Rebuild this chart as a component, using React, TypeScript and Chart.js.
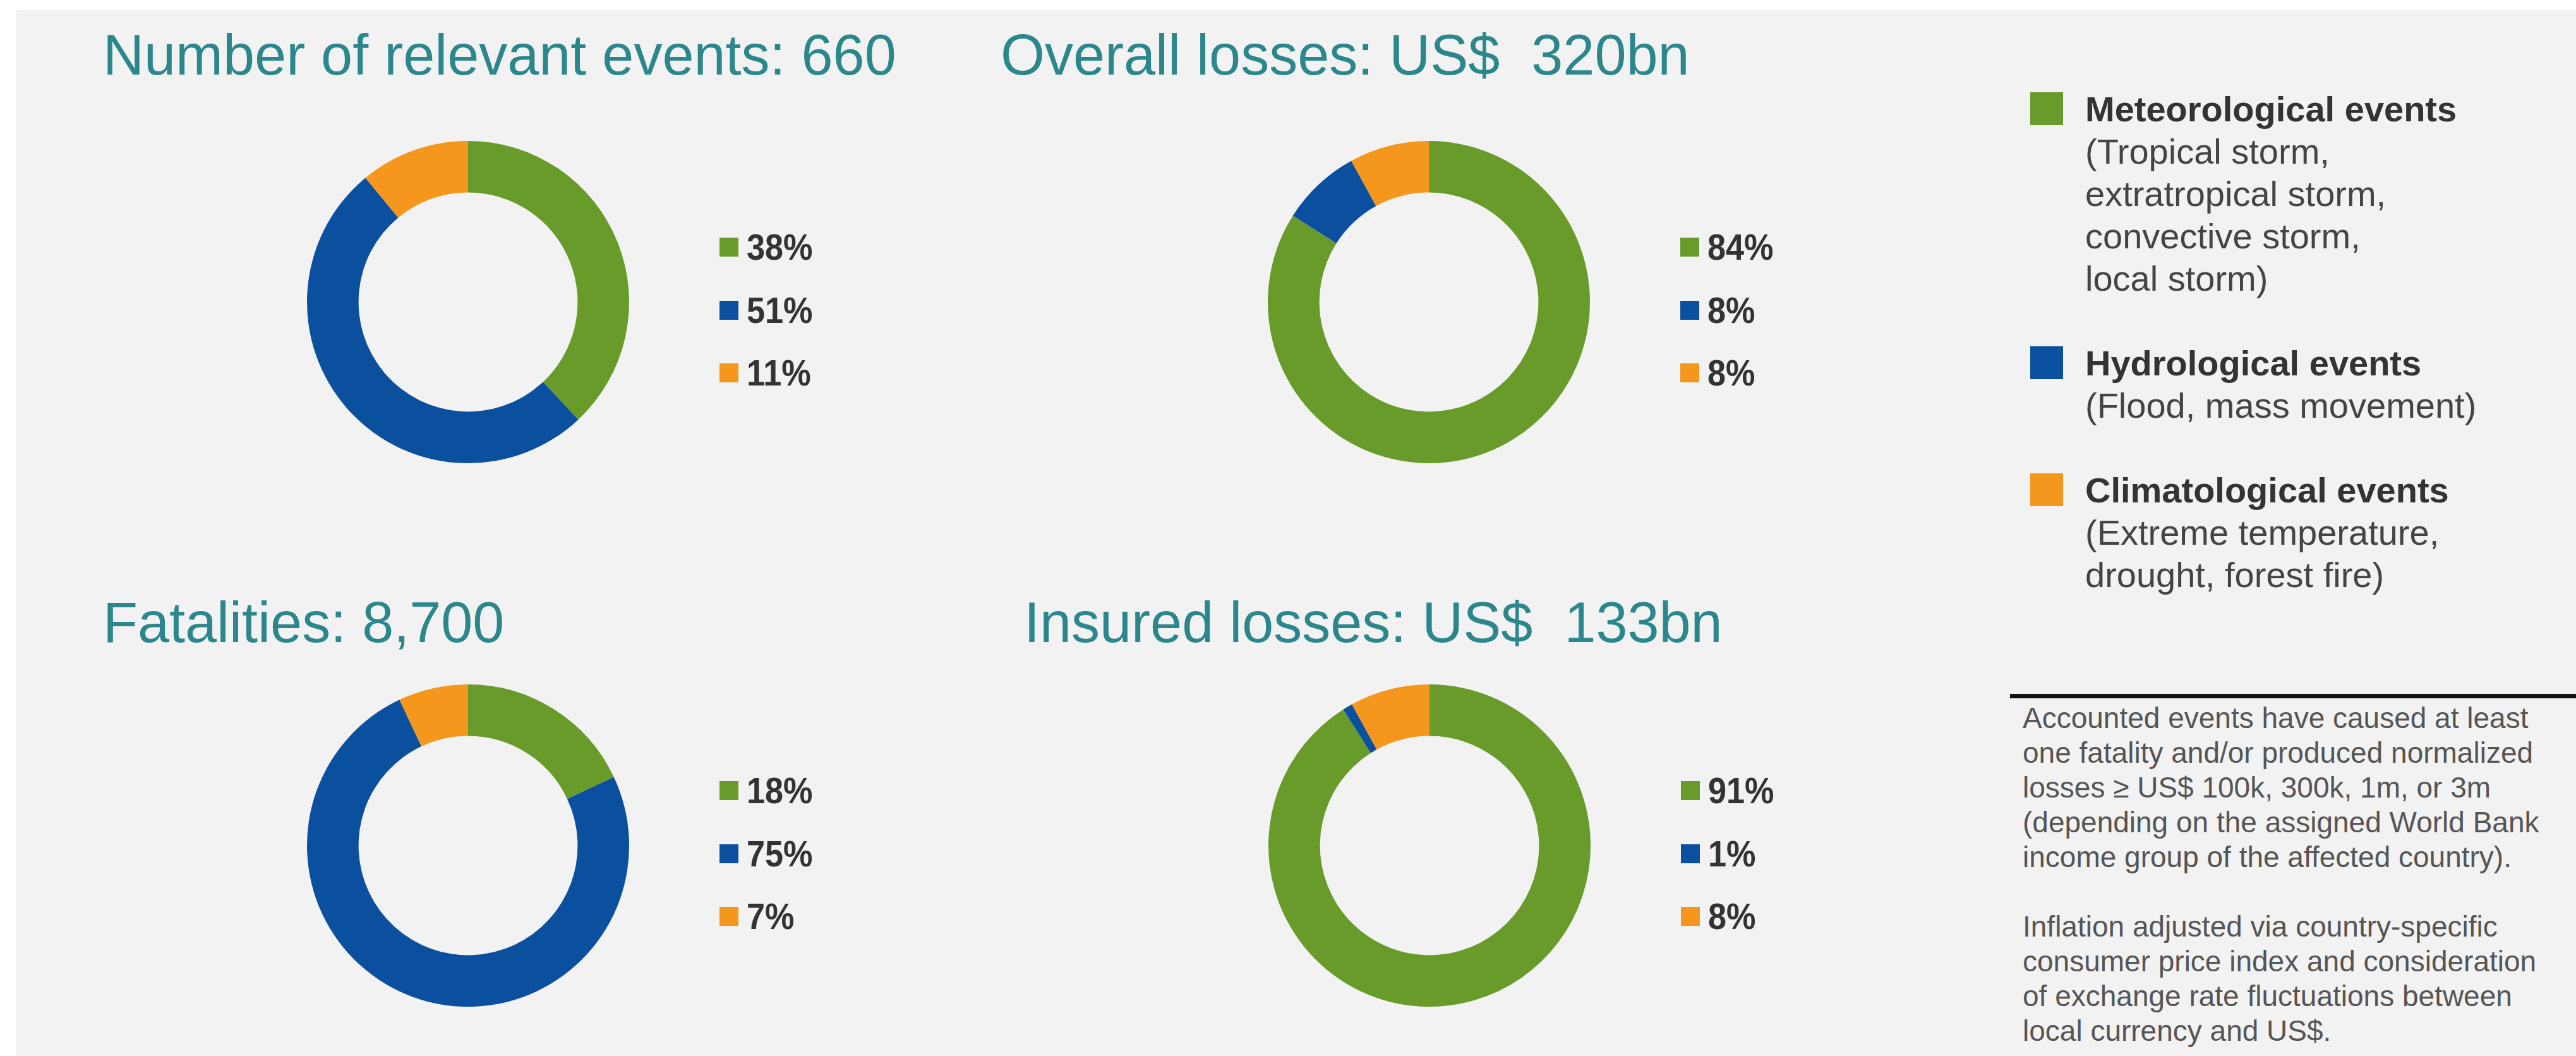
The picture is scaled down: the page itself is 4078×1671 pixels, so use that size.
import React, { useEffect, useRef } from "react";
import { Chart, registerables } from "chart.js";

Chart.register(...registerables);

// ---------- data ----------
const categories = ["Meteorological events", "Hydrological events", "Climatological events"];
const categoryDetails = [
  ["(Tropical storm,", "extratropical storm,", "convective storm,", "local storm)"],
  ["(Flood, mass movement)"],
  ["(Extreme temperature,", "drought, forest fire)"],
];
const chartTitles = [
  "Number of relevant events: 660",
  "Overall losses: US$  320bn",
  "Fatalities: 8,700",
  "Insured losses: US$  133bn",
];
const eventsShare = [38, 51, 11];
const overallLossShare = [84, 8, 8];
const fatalitiesShare = [18, 75, 7];
const insuredLossShare = [91, 1, 8];
const footnoteLines = [
  "Accounted events have caused at least",
  "one fatality and/or produced normalized",
  "losses \u2265 US$ 100k, 300k, 1m, or 3m",
  "(depending on the assigned World Bank",
  "income group of the affected country).",
  "",
  "Inflation adjusted via country-specific",
  "consumer price index and consideration",
  "of exchange rate fluctuations between",
  "local currency and US$.",
];

// ---------- styles ----------
const colors = ["#699B2B", "#0B4F9F", "#F5961D"];
const titleColor = "#2B878C";
const FONT = '"Liberation Sans", Arial, Helvetica, sans-serif';
const R = 255;

const panels = [
  { values: eventsShare, cx: 741, cy: 478, tx: 163, ty: 42 },
  { values: overallLossShare, cx: 2262, cy: 478, tx: 1584, ty: 42 },
  { values: fatalitiesShare, cx: 741, cy: 1338, tx: 163, ty: 940 },
  { values: insuredLossShare, cx: 2263, cy: 1338, tx: 1621, ty: 940 },
];

function Donut({ values, cx, cy }: { values: number[]; cx: number; cy: number }) {
  const ref = useRef<HTMLCanvasElement | null>(null);
  useEffect(() => {
    if (!ref.current) return;
    const size = 2 * R + 10;
    const chart = new Chart(ref.current, {
      type: "doughnut",
      data: {
        labels: categories,
        datasets: [
          {
            data: values,
            backgroundColor: colors,
            borderWidth: 0,
          },
        ],
      },
      options: {
        responsive: false,
        animation: false,
        devicePixelRatio: 1,
        cutout: "68%",
        layout: { padding: 5 },
        plugins: { legend: { display: false }, tooltip: { enabled: false }, title: { display: false } },
      },
    });
    return () => chart.destroy();
  }, [values]);
  const size = 2 * R + 10;
  return (
    <canvas
      ref={ref}
      width={size}
      height={size}
      style={{ position: "absolute", left: cx - size / 2, top: cy - size / 2, width: size, height: size }}
    />
  );
}

export default function App() {
  const legendLH = 67;
  const legendTop = 139;
  // build right legend lines
  const rightLines: { text: string; bold: boolean; cat: number }[] = [];
  categories.forEach((c, i) => {
    if (i > 0) rightLines.push({ text: "", bold: false, cat: -1 });
    rightLines.push({ text: c, bold: true, cat: i });
    categoryDetails[i].forEach((d) => rightLines.push({ text: d, bold: false, cat: -1 }));
  });

  return (
    <div
      style={{
        position: "absolute",
        left: 0,
        top: 0,
        width: 4078,
        height: 1671,
        background: "#ffffff",
        overflow: "hidden",
        fontFamily: FONT,
      }}
    >
      <div style={{ position: "absolute", left: 26, top: 16, right: 0, bottom: 0, background: "#f2f2f2" }} />

      {panels.map((p, pi) => (
        <React.Fragment key={pi}>
          <div
            style={{
              position: "absolute",
              left: p.tx,
              top: p.ty,
              fontSize: 90,
              lineHeight: "90px",
              color: titleColor,
              whiteSpace: "pre",
            }}
          >
            {chartTitles[pi]}
          </div>
          <Donut values={p.values} cx={p.cx} cy={p.cy} />
          {p.values.map((v, i) => {
            const rowY = p.cy - 87 + i * 99.5;
            return (
              <React.Fragment key={i}>
                <div
                  style={{
                    position: "absolute",
                    left: p.cx + 398,
                    top: rowY - 15,
                    width: 30,
                    height: 30,
                    background: colors[i],
                  }}
                />
                <div
                  style={{
                    position: "absolute",
                    left: p.cx + 441,
                    top: rowY - 29,
                    fontSize: 58,
                    lineHeight: "58px",
                    fontWeight: "bold",
                    color: "#333333",
                    transform: "scaleX(0.9)",
                    transformOrigin: "left center",
                    whiteSpace: "pre",
                  }}
                >
                  {v + "%"}
                </div>
              </React.Fragment>
            );
          })}
        </React.Fragment>
      ))}

      {/* right legend */}
      {rightLines.map((l, k) => (
        <React.Fragment key={"rl" + k}>
          {l.cat >= 0 && (
            <div
              style={{
                position: "absolute",
                left: 3214,
                top: legendTop + k * legendLH + 7,
                width: 52,
                height: 52,
                background: colors[l.cat],
              }}
            />
          )}
          <div
            style={{
              position: "absolute",
              left: 3301,
              top: legendTop + k * legendLH,
              fontSize: 56,
              lineHeight: legendLH + "px",
              fontWeight: l.bold ? "bold" : "normal",
              color: l.bold ? "#333333" : "#444444",
              whiteSpace: "pre",
            }}
          >
            {l.text}
          </div>
        </React.Fragment>
      ))}

      {/* separator */}
      <div style={{ position: "absolute", left: 3182, top: 1098, width: 4078 - 3182, height: 7, background: "#111111" }} />

      {/* footnote */}
      {footnoteLines.map((t, k) => (
        <div
          key={"fn" + k}
          style={{
            position: "absolute",
            left: 3202,
            top: 1109 + k * 55,
            fontSize: 46,
            lineHeight: "55px",
            color: "#555555",
            whiteSpace: "pre",
          }}
        >
          {t}
        </div>
      ))}
    </div>
  );
}
